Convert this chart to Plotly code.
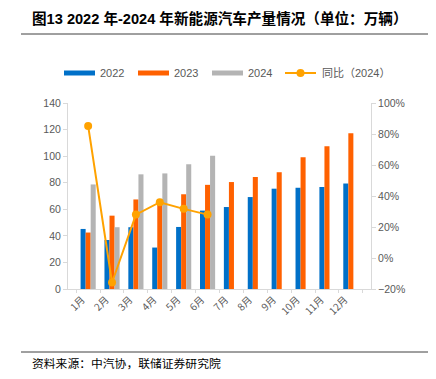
import plotly.graph_objects as go

months = ["1月", "2月", "3月", "4月", "5月", "6月", "7月", "8月", "9月", "10月", "11月", "12月"]
prod_2022 = [45.2, 36.9, 46.5, 31.2, 46.7, 59.0, 61.7, 69.2, 75.5, 76.2, 76.8, 79.4]
prod_2023 = [42.5, 55.2, 67.4, 64.0, 71.3, 78.4, 80.5, 84.3, 87.9, 99.1, 107.4, 117.2]
prod_2024 = [78.7, 46.5, 86.3, 87.0, 93.9, 100.3, None, None, None, None, None, None]
yoy_2024 = [85.2, -15.8, 28.0, 36.0, 31.7, 28.0, None, None, None, None, None, None]

series_names = ["2022", "2023", "2024", "同比（2024）"]
colors = ["#0070C8", "#FF6100", "#B4B4B4", "#FFA200"]

# The page body has an 8px default margin, so the figure is drawn 8px in from the window edge.
OFF = 8
W, H = 436 - 2 * OFF, 379 - 2 * OFF
# plot area in window pixels
L, R, T, B = 68, 371, 103, 289
pw, ph = R - L, B - T

def px(x):
    return (x - L) / pw

def py(y):
    return (B - y) / ph

fig = go.Figure()
for vals, name, c in zip([prod_2022, prod_2023, prod_2024], series_names[:3], colors[:3]):
    fig.add_trace(go.Bar(x=months, y=vals, name=name, marker=dict(color=c, line=dict(width=0)),
                         yaxis="y"))
fig.add_trace(go.Scatter(x=months, y=yoy_2024, name=series_names[3], yaxis="y2",
                         mode="lines+markers", line=dict(color=colors[3], width=2),
                         marker=dict(color=colors[3], size=8)))

tickfont = dict(family="Liberation Sans, Arial, sans-serif", size=10.5, color="#595959")
axcol = "#D9D9D9"

fig.update_layout(
    width=W, height=H,
    margin=dict(l=L - OFF, r=W - (R - OFF), t=T - OFF, b=H - (B - OFF), pad=0, autoexpand=False),
    paper_bgcolor="white", plot_bgcolor="white",
    showlegend=False,
    barmode="group", bargap=0.366, bargroupgap=0,
    xaxis=dict(type="category", tickangle=-45, automargin=False, ticklabelshift=-6,
               tickfont=dict(family="Noto Sans CJK SC, sans-serif", size=10, color="#595959"),
               showline=True, linecolor=axcol, linewidth=1, ticks="outside", tickson="boundaries",
               ticklen=3, tickcolor=axcol, showgrid=False, zeroline=False),
    yaxis=dict(range=[0, 140], dtick=20, tickfont=tickfont, showline=True, linecolor=axcol,
               automargin=False,
               linewidth=1, ticks="outside", ticklen=4, tickcolor=axcol, showgrid=False, zeroline=False),
    yaxis2=dict(range=[-20, 100], dtick=20, ticksuffix="%", tickfont=tickfont, overlaying="y",
                automargin=False,
                side="right", showline=True, linecolor=axcol, linewidth=1, ticks="outside",
                ticklen=4, tickcolor=axcol, showgrid=False, zeroline=False),
)

shapes = []
annotations = []
# title and rules
annotations.append(dict(text="<b>图13 2022 年-2024 年新能源汽车产量情况（单位：万辆）</b>",
                        x=px(30), y=py(19), xref="paper", yref="paper", xanchor="left", yanchor="middle",
                        showarrow=False,
                        font=dict(family="Liberation Sans, Noto Sans CJK SC, sans-serif", size=14.6, color="#000000")))
shapes.append(dict(type="line", xref="paper", yref="paper", x0=px(21), x1=px(428), y0=py(34), y1=py(34),
                   line=dict(color="#404040", width=1)))
shapes.append(dict(type="line", xref="paper", yref="paper", x0=px(21), x1=px(428), y0=py(352), y1=py(352),
                   line=dict(color="#404040", width=1)))
annotations.append(dict(text="资料来源：中汽协，联储证券研究院", x=px(30), y=py(362), xref="paper", yref="paper",
                        xanchor="left", yanchor="middle", showarrow=False,
                        font=dict(family="Noto Sans CJK SC, sans-serif", size=11.8, color="#000000")))

# custom legend
leg_y = 73
leg_items = [(64, 95, 98), (138, 169, 172), (212, 243, 246), (285, 316, 320)]
for i, (x0, x1, tx) in enumerate(leg_items):
    if i < 3:
        shapes.append(dict(type="rect", xref="paper", yref="paper", x0=px(x0), x1=px(x1),
                           y0=py(leg_y + 2.5), y1=py(leg_y - 2.5), fillcolor=colors[i], line=dict(width=0)))
    else:
        shapes.append(dict(type="line", xref="paper", yref="paper", x0=px(x0), x1=px(x1),
                           y0=py(leg_y), y1=py(leg_y), line=dict(color=colors[3], width=2)))
        shapes.append(dict(type="circle", xref="paper", yref="paper", x0=px((x0 + x1) / 2 - 4),
                           x1=px((x0 + x1) / 2 + 4), y0=py(leg_y + 4), y1=py(leg_y - 4),
                           fillcolor=colors[3], line=dict(width=0)))
    annotations.append(dict(text=series_names[i], x=px(tx), y=py(leg_y), xref="paper", yref="paper",
                            xanchor="left", yanchor="middle", showarrow=False,
                            font=dict(family="Liberation Sans, Noto Sans CJK SC, sans-serif", size=11, color="#595959")))

fig.update_layout(shapes=shapes, annotations=annotations)
fig.write_html("out.html")
